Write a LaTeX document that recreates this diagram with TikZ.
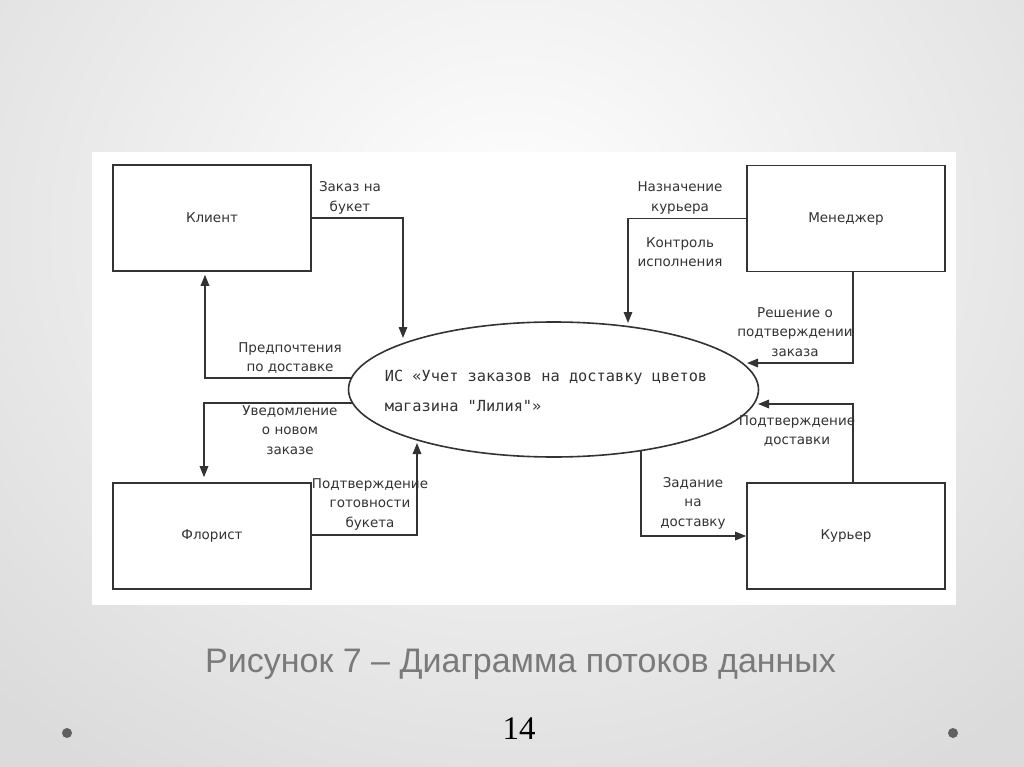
\documentclass[tikz,border=0pt]{standalone}
\usepackage{fontspec}
\setmainfont{DejaVu Sans}
\newfontfamily\capfont{Liberation Sans}
\newfontfamily\numfont{Liberation Serif}
\newfontfamily\isfont{DejaVu Sans Mono}
\usetikzlibrary{arrows.meta,shapes.geometric}
\definecolor{linec}{HTML}{333333}
\definecolor{textc}{HTML}{333333}
\definecolor{capc}{HTML}{7A7A7A}
\definecolor{dotc}{HTML}{606060}
\begin{document}
\begin{tikzpicture}[x=1pt,y=-1pt,
  ent/.style={draw=linec, line width=1.6pt, minimum width=198pt, minimum height=106pt, inner sep=0pt, text=textc, font=\fontsize{13.5}{16}\selectfont},
  flow/.style={draw=linec, line width=1.6pt, -{Triangle[length=11pt,width=8.5pt]}},
  lbl/.style={align=center, font=\fontsize{13.5}{19.5}\selectfont, text=textc, inner sep=0pt}]
\useasboundingbox (0,0) rectangle (1024,767);
% slide background
\shade[inner color=white, outer color=black!14] (-220,-420) rectangle (1244,880);
\fill[white] (92,152) rectangle (956,605);
% entities
\node[ent] (kl) at (212,218) {Клиент};
\node[ent] (me) at (846,218.5) {Менеджер};
\node[ent] (fl) at (212,536) {Флорист};
\node[ent] (ku) at (846,536) {Курьер};
\node[ellipse, draw=linec, line width=1.6pt, minimum width=410pt, minimum height=135pt, inner sep=0pt] (is) at (553.5,389.5) {};
\node[align=left, inner sep=0pt, text=textc, font=\isfont\fontsize{15.3}{30}\selectfont] (istext) at (546,391) {ИС «Учет заказов на доставку цветов\\магазина "Лилия"»};
% coordinates
\coordinate (t1) at (403,338);
\coordinate (s2) at (352,378);
\coordinate (s3) at (352,403);
\coordinate (t4) at (417,443);
\coordinate (t5) at (628,323);
\coordinate (t6) at (747,363);
\coordinate (t7) at (758,404);
\coordinate (s8) at (641,451);
% flows
\draw[flow] (kl.east) -| (t1);
\draw[flow, shorten >=3pt] (s2) -| (kl.south -| 205,0);
\draw[flow, shorten >=5pt] (s3) -| (fl.north -| 204,0);
\draw[flow] (fl.east |- 0,535) -| (t4);
\draw[flow] (me.west) -| (t5);
\draw[flow] (me.south -| 853,0) |- (t6);
\draw[flow] (ku.north -| 853,0) |- (t7);
\draw[flow] (s8) |- (ku.west);
% labels
\node[lbl] (l1) at (350,198) {Заказ на\\букет};
\node[lbl] (l2) at (290,358) {Предпочтения\\по доставке};
\node[lbl] (l3) at (290,430) {Уведомление\\о новом\\заказе};
\node[lbl] (l4) at (370,504) {Подтверждение\\готовности\\букета};
\node[lbl] (l5a) at (680,198) {Назначение\\курьера};
\node[lbl] (l5b) at (680,252) {Контроль\\исполнения};
\node[lbl] (l6) at (795,332) {Решение о\\подтверждении\\заказа};
\node[lbl] (l7) at (797,431) {Подтверждение\\доставки};
\node[lbl] (l8) at (693,503) {Задание\\на\\доставку};
% caption
\node[anchor=base west, inner sep=0pt, text=capc, font=\capfont\fontsize{34}{38}\selectfont] (cap) at (205,672) {Рисунок 7 – Диаграмма потоков данных};
\node[anchor=base, inner sep=0pt, text=black, font=\numfont\fontsize{33}{38}\selectfont] (num) at (519,739) {14};
% dots
\fill[dotc] (67,733) circle (5);
\fill[dotc] (953,733) circle (5);
\end{tikzpicture}
\end{document}
